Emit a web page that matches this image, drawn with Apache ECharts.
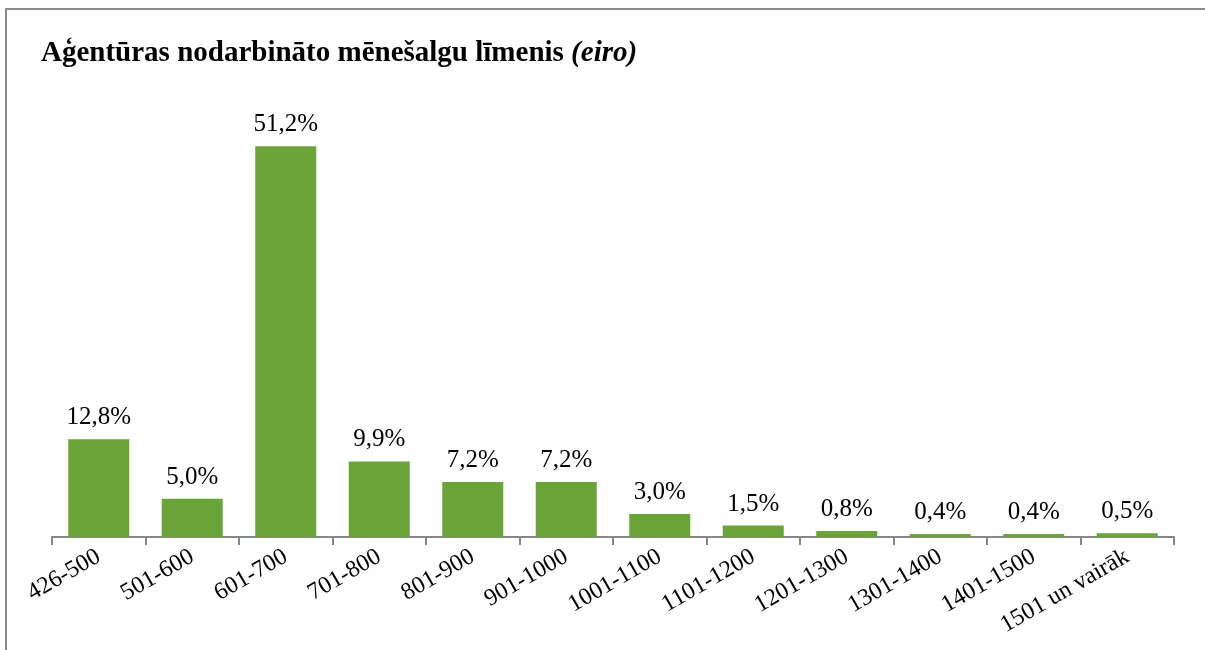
<!DOCTYPE html>
<html>
<head>
<meta charset="utf-8">
<script src="https://cdn.jsdelivr.net/npm/echarts@6/dist/echarts.min.js"></script>
<style>
  html, body { margin: 0; padding: 0; background: #fff; }
  #chart { width: 1205px; height: 650px; }
</style>
</head>
<body>
<div id="chart"></div>
<script>
const categories = ['426-500', '501-600', '601-700', '701-800', '801-900', '901-1000',
  '1001-1100', '1101-1200', '1201-1300', '1301-1400', '1401-1500', '1501 un vairāk']
const shares = [12.8, 5.0, 51.2, 9.9, 7.2, 7.2, 3.0, 1.5, 0.8, 0.4, 0.4, 0.5]

const serif = '"Liberation Serif", "Times New Roman", serif'
const chart = echarts.init(document.getElementById('chart'))

chart.setOption({
  animation: false,
  textStyle: { fontFamily: serif },
  graphic: [
    {
      type: 'rect',
      shape: { x: 6, y: 9, width: 1300, height: 700 },
      style: { fill: 'none', stroke: '#8c8c8c', lineWidth: 2 },
    },
  ],
  title: {
    text: '{b|Aģentūras nodarbināto mēnešalgu līmenis }{i|(eiro)}',
    left: 36,
    top: 34,
    textStyle: {
      rich: {
        b: { fontFamily: serif, fontWeight: 'bold', fontSize: 29, color: '#000' },
        i: { fontFamily: serif, fontWeight: 'bold', fontStyle: 'italic', fontSize: 29, color: '#000' },
      },
    },
  },
  grid: { left: 52, right: 31, top: 79, bottom: 113 },
  xAxis: {
    type: 'category',
    data: categories,
    axisLine: { lineStyle: { color: '#868686', width: 2 } },
    axisTick: { show: true, length: 8, lineStyle: { color: '#868686', width: 2 } },
    axisLabel: {
      interval: 0,
      rotate: 30,
      margin: 18,
      fontFamily: serif,
      fontSize: 24,
      color: '#000',
    },
  },
  yAxis: {
    type: 'value',
    min: 0,
    max: 60,
    show: false,
  },
  series: [
    {
      type: 'bar',
      data: shares,
      barWidth: 61,
      itemStyle: { color: '#6aa338' },
      label: {
        show: true,
        position: 'top',
        distance: 9,
        fontFamily: serif,
        fontSize: 25,
        color: '#000',
        formatter: (p) => p.value.toFixed(1).replace('.', ',') + '%',
      },
    },
  ],
})
</script>
</body>
</html>
